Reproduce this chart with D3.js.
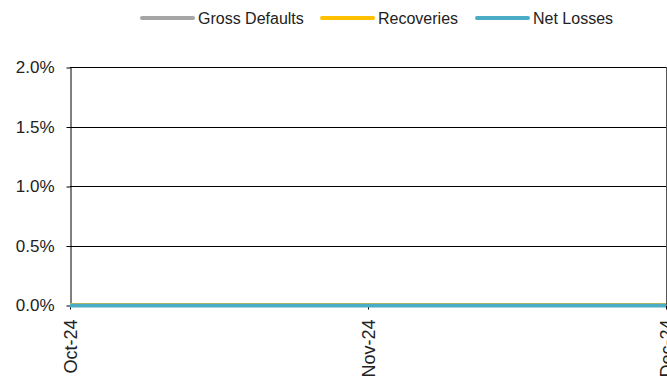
<!DOCTYPE html>
<html>
<head>
<meta charset="utf-8">
<script src="https://cdn.jsdelivr.net/npm/d3@7"></script>
<style>
  body { margin: 0; background: #fff; overflow: hidden; }
  svg { font-family: "Liberation Sans", Arial, sans-serif; display: block; }
</style>
</head>
<body>
<svg width="667" height="378"></svg>
<script>
// chart data
var months = ["Oct-24", "Nov-24", "Dec-24"];
var grossDefaults = [0, 0, 0];
var recoveries = [0, 0, 0];
var netLosses = [0, 0, 0];
var yTicks = [0, 0.005, 0.01, 0.015, 0.02];

var series = [
  {name: "Gross Defaults", values: grossDefaults, color: "#A5A5A5"},
  {name: "Recoveries", values: recoveries, color: "#FFC000"},
  {name: "Net Losses", values: netLosses, color: "#4BACC6"}
];

var svg = d3.select("svg");
var plotLeft = 70, plotRight = 666, plotTop = 67, plotBottom = 305;

var x = d3.scalePoint().domain(months).range([plotLeft, plotRight]);
var y = d3.scaleLinear().domain([0, 0.02]).range([plotBottom, plotTop]);

// gridlines
svg.append("g").selectAll("line")
  .data(yTicks.slice(1))
  .enter().append("line")
    .attr("x1", plotLeft).attr("x2", plotRight)
    .attr("y1", function(d) { return Math.round(y(d)) + 0.5; })
    .attr("y2", function(d) { return Math.round(y(d)) + 0.5; })
    .attr("stroke", "#000").attr("stroke-width", 1);

// right border
svg.append("line")
  .attr("x1", plotRight + 0.5).attr("x2", plotRight + 0.5)
  .attr("y1", plotTop).attr("y2", plotBottom)
  .attr("stroke", "#555");

// y axis
var yAxis = svg.append("g")
  .attr("transform", "translate(" + (plotLeft + 0.5) + ",0.5)")
  .call(d3.axisLeft(y).tickValues(yTicks).tickFormat(d3.format(".1%")).tickSize(4).tickPadding(12).tickSizeOuter(0));
yAxis.select(".domain").attr("stroke", "#000");
yAxis.selectAll("text").attr("font-size", 17).attr("fill", "#222")
  .attr("font-family", "Liberation Sans, Arial, sans-serif");

// x axis
var xAxis = svg.append("g")
  .attr("transform", "translate(0," + (plotBottom + 0.5) + ")")
  .call(d3.axisBottom(x).tickSize(4).tickSizeOuter(0));
xAxis.select(".domain").remove();
xAxis.selectAll("text")
  .attr("font-size", 18).attr("fill", "#222")
  .attr("font-family", "Liberation Sans, Arial, sans-serif")
  .attr("transform", "rotate(-90)")
  .attr("text-anchor", "end")
  .attr("x", -14).attr("y", 0).attr("dy", "0.35em");

// lines
var line = d3.line()
  .x(function(d, i) { return x(months[i]); })
  .y(function(d) { return y(d); });

svg.append("g").selectAll("path")
  .data(series)
  .enter().append("path")
    .attr("d", function(s) { return line(s.values); })
    .attr("fill", "none")
    .attr("stroke", function(s) { return s.color; })
    .attr("stroke-width", function(s, i) { return i == 2 ? 4 : 3; })
    .attr("transform", function(s, i) { return "translate(0," + (i == 2 ? 0.5 : -0.5) + ")"; });

// legend
var legendX = [140, 320, 475];
var legend = svg.append("g").selectAll("g")
  .data(series)
  .enter().append("g")
    .attr("transform", function(s, i) { return "translate(" + legendX[i] + ",18)"; });
legend.append("line")
  .attr("x1", 2).attr("x2", 53)
  .attr("stroke", function(s) { return s.color; })
  .attr("stroke-width", 4).attr("stroke-linecap", "round");
legend.append("text")
  .attr("x", 58).attr("dy", "0.35em")
  .attr("font-size", 16).attr("fill", "#222")
  .text(function(s) { return s.name; });
</script>
</body>
</html>
